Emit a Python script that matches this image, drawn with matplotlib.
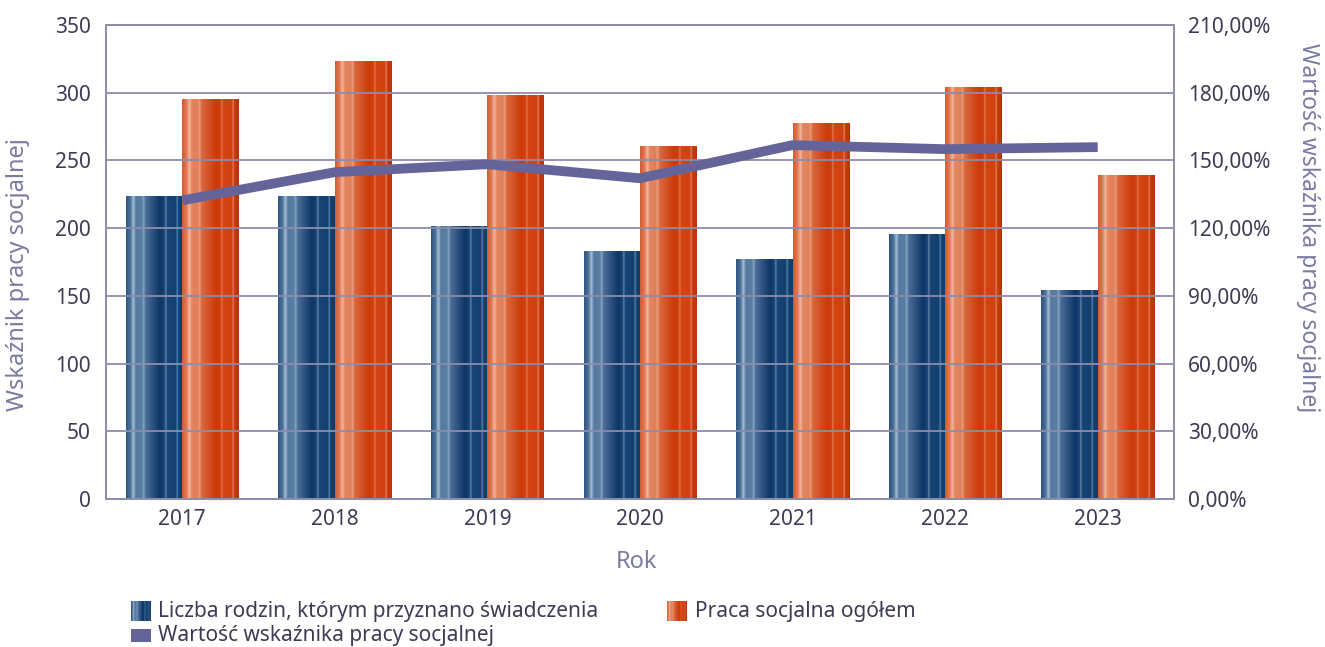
import numpy as np
import matplotlib
matplotlib.use("Agg")
import matplotlib.pyplot as plt
from matplotlib.colors import LinearSegmentedColormap
from matplotlib.ticker import FuncFormatter

# ---- data ----
years = ["2017", "2018", "2019", "2020", "2021", "2022", "2023"]
rodziny = [223, 223, 201, 183, 177, 195, 154]
praca = [295, 323, 298, 260, 277, 304, 239]
wskaznik = [132.3, 144.8, 148.3, 142.1, 156.8, 155.0, 155.9]

label_rodziny = "Liczba rodzin, którym przyznano świadczenia"
label_praca = "Praca socjalna ogółem"
label_wsk = "Wartość wskaźnika pracy socjalnej"

# ---- styles ----
FONT = ["Noto Sans", "DejaVu Sans"]
plt.rcParams["font.family"] = FONT
TICK_C = "#3c3c55"
LAB_C = "#7a7aa2"
GRID_C = "#8c8cac"
LINE_C = "#64649a"

blue_stops = [(0.0, "#2e5580"), (0.08, "#4e7298"), (0.13, "#a8c0d8"), (0.17, "#557aa0"),
              (0.28, "#5a7ea3"), (0.31, "#8aa8c8"), (0.34, "#4d7098"), (0.60, "#0d3566"),
              (0.68, "#1a4575"), (0.70, "#7090b8"), (0.72, "#184575"), (0.88, "#12406f"),
              (0.90, "#6a8cb5"), (0.92, "#154270"), (1.0, "#123a68")]
orange_stops = [(0.0, "#d45a30"), (0.08, "#e07a55"), (0.13, "#f3b9a0"), (0.17, "#e28560"),
                (0.28, "#e08058"), (0.31, "#eca080"), (0.34, "#db6a40"), (0.60, "#cc3a08"),
                (0.68, "#d04010"), (0.70, "#e8805a"), (0.72, "#d24512"), (0.88, "#d04010"),
                (0.90, "#e88a66"), (0.92, "#c83a0a"), (1.0, "#b8340a")]
cm_blue = LinearSegmentedColormap.from_list("b", blue_stops)
cm_orange = LinearSegmentedColormap.from_list("o", orange_stops)
grad = np.linspace(0, 1, 256).reshape(1, -1)

fig = plt.figure(figsize=(13.25, 6.47), dpi=100)
ax = fig.add_axes([106 / 1325, 1 - 499 / 647, (1174 - 106) / 1325, (499 - 25) / 647])

W = 0.37
x = np.arange(len(years))
for i in range(len(years)):
    ax.imshow(grad, cmap=cm_blue, extent=[x[i] - W, x[i], 0, rodziny[i]],
              aspect="auto", zorder=1, interpolation="bilinear")
    ax.imshow(grad, cmap=cm_orange, extent=[x[i], x[i] + W, 0, praca[i]],
              aspect="auto", zorder=1, interpolation="bilinear")

ax.set_xlim(-0.5, len(years) - 0.5)
ax.set_ylim(0, 350)
ax.set_yticks(np.arange(0, 351, 50))
ax.set_xticks(x)
ax.set_xticklabels(years)
ax.set_axisbelow(False)
ax.yaxis.grid(True, color=GRID_C, linewidth=1.3)
ax.tick_params(axis="y", length=0, pad=11, labelsize=15, labelcolor=TICK_C)
ax.tick_params(axis="x", length=0, pad=7, labelsize=15, labelcolor=TICK_C)
for s in ax.spines.values():
    s.set_color(GRID_C)
    s.set_linewidth(1.3)

ax2 = ax.twinx()
ax2.plot(x, wskaznik, color=LINE_C, linewidth=7, solid_capstyle="butt", zorder=5)
ax2.set_ylim(0, 210)
ax2.set_yticks(np.arange(0, 211, 30))
ax2.yaxis.set_major_formatter(FuncFormatter(lambda v, p: f"{v:.2f}%".replace(".", ",")))
ax2.tick_params(axis="y", length=0, pad=10, labelsize=15, labelcolor=TICK_C)
for s in ax2.spines.values():
    s.set_color(GRID_C)
    s.set_linewidth(1.3)

# axis titles
fig.text(18 / 1325, 1 - 275 / 647, "Wskaźnik pracy socjalnej", rotation=90, ha="center",
         va="center", fontsize=17, color=LAB_C)
fig.text(1308 / 1325, 1 - 228 / 647, label_wsk, rotation=270, ha="center",
         va="center", fontsize=16.5, color=LAB_C)
fig.text(636 / 1325, 1 - 562 / 647, "Rok", ha="center", va="center", fontsize=17, color=LAB_C)

# legend (manual)
def grad_patch(x0, y0, w, h, cmap):
    a = fig.add_axes([x0 / 1325, 1 - (y0 + h) / 647, w / 1325, h / 647])
    a.imshow(grad, cmap=cmap, aspect="auto", interpolation="bilinear")
    a.set_axis_off()

grad_patch(131, 601, 20, 20, cm_blue)
grad_patch(667, 601, 20, 20, cm_orange)
la = fig.add_axes([131 / 1325, 1 - 642 / 647, 20 / 1325, 13 / 647])
la.set_facecolor(LINE_C)
la.set_xticks([]); la.set_yticks([])
for s in la.spines.values():
    s.set_visible(False)

fig.text(158 / 1325, 1 - 611 / 647, label_rodziny, ha="left", va="center", fontsize=15, color=TICK_C)
fig.text(695 / 1325, 1 - 611 / 647, label_praca, ha="left", va="center", fontsize=15, color=TICK_C)
fig.text(158 / 1325, 1 - 636 / 647, label_wsk, ha="left", va="center", fontsize=15, color=TICK_C)

fig.savefig("out.png", dpi=100)
